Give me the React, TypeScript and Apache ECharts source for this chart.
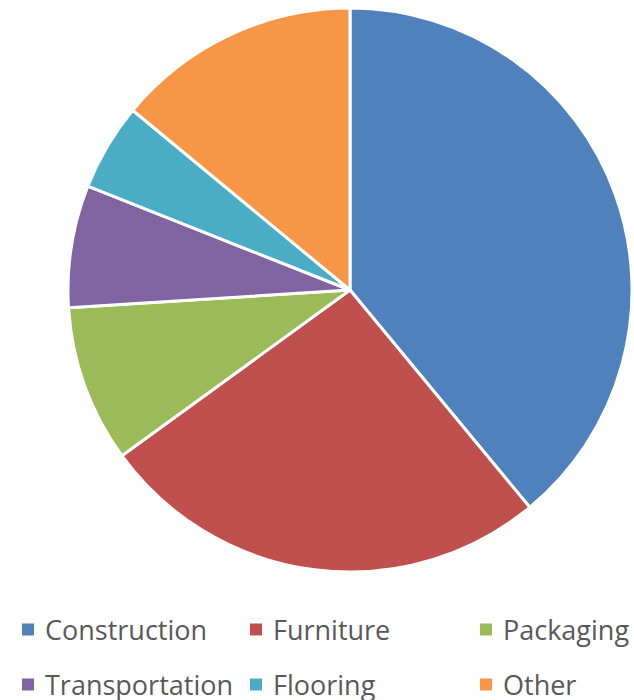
import React, { useEffect, useRef } from "react";
import * as echarts from "echarts";

const categories = ["Construction", "Furniture", "Packaging", "Transportation", "Flooring", "Other"];
const values = [39, 26, 9, 7, 5, 14];
const colors = ["#4F81BD", "#C0504D", "#9BBB59", "#8064A2", "#4BACC6", "#F79646"];
const legendLeft = [20, 248, 478, 20, 248, 478];
const legendTop = [616, 616, 616, 671, 671, 671];

export default function App() {
  const ref = useRef<HTMLDivElement>(null);
  useEffect(() => {
    document.body.style.margin = "0";
    const chart = echarts.init(ref.current!, undefined, { renderer: "svg" });
    chart.setOption({
      animation: false,
      color: colors,
      legend: categories.map((c, i) => ({
        data: [c],
        left: legendLeft[i],
        top: legendTop[i],
        icon: "rect",
        itemWidth: 14,
        itemHeight: 14,
        itemGap: 0,
        padding: 0,
        selectedMode: false,
        textStyle: {
          fontFamily: "Open Sans",
          fontSize: 27,
          color: "#595959",
          padding: [0, 0, 0, 5],
        },
      })),
      series: [
        {
          type: "pie",
          center: [350, 290],
          radius: 282,
          startAngle: 90,
          clockwise: true,
          label: { show: false },
          labelLine: { show: false },
          emphasis: { disabled: true },
          itemStyle: { borderColor: "#ffffff", borderWidth: 3 },
          data: categories.map((c, i) => ({ name: c, value: values[i] })),
        },
      ],
    });
    return () => chart.dispose();
  }, []);
  return <div ref={ref} style={{ width: 634, height: 700 }} />;
}
